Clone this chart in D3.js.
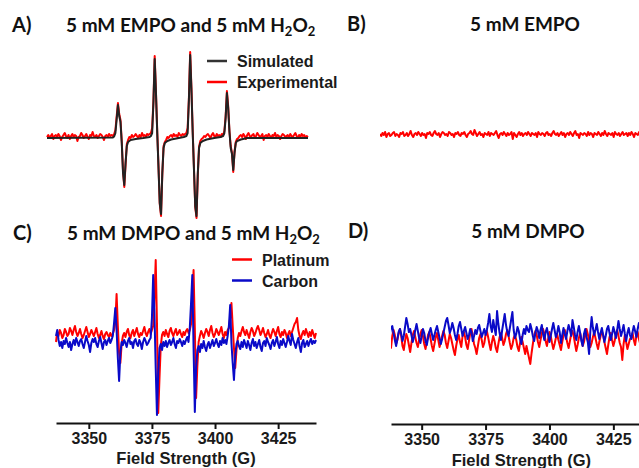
<!DOCTYPE html>
<html>
<head>
<meta charset="utf-8">
<script src="https://cdn.jsdelivr.net/npm/d3@7"></script>
<style>
  body { margin: 0; background: #fff; }
  svg { display: block; }
  .lbl { font-family: "Liberation Sans", Arial, sans-serif; font-weight: bold; fill: #1a1a1a; }
  .ttl { font-family: Lato, "Open Sans", sans-serif; font-weight: bold; fill: #111; }
</style>
</head>
<body>
<svg id="chart" width="639" height="468"></svg>
<script>
// sweep grid of the spectrometer: first field (G) and step (G)
const fieldStart = 3337;
const fieldStep = 0.5;

const tickFields = [3350, 3375, 3400, 3425];

// A) simulated spectrum, [field, intensity] vertices
const simA = [
  [3337, 0], [3363, 0.5], [3363.5, 1.5], [3364, 5], [3364.5, 19], [3365, 33], [3365.5, 22], [3366, 16],
  [3366.5, -5], [3367, -35], [3367.5, -47], [3368, -25], [3368.5, -8], [3369, -4], [3370, -2], [3372, -1], [3375, 0],
  [3377.5, 1], [3378, 2], [3378.5, 5], [3379, 35], [3379.5, 79], [3380, 45], [3380.5, 5], [3381, -30],
  [3381.5, -65], [3382, -76], [3382.5, -35], [3383, -10], [3383.5, -5], [3384.5, -3], [3386, -1.5], [3389, 0],
  [3391, 1], [3392, 2], [3392.5, 5], [3393, 38], [3393.5, 83], [3394, 48], [3394.5, 5], [3395, -32],
  [3395.5, -68], [3396, -78], [3396.5, -36], [3397, -10], [3397.5, -5], [3398.5, -3], [3400, -1.5], [3403, 0],
  [3405.5, 1], [3406.5, 2], [3407, 5], [3407.5, 20], [3408, 45], [3408.5, 30], [3409, 6], [3409.5, -10],
  [3410, -16], [3410.5, -32], [3411, -15], [3411.5, -5], [3412, -3], [3413.5, -1.5], [3416, 0], [3440, 0]
];

// A) experimental, one value per sweep point
const expA = [
  1, 3, 0, 2, 4, -1, 2, 3, 1, 4,
  2, -2, 1, 3, 5, 2, 0, 3, -1, 2,
  4, 1, 3, 2, -3, 1, 2, 5, 3, 0,
  2, 4, 1, -1, 3, 2, 6, 2, 1, 3,
  0, 2, 4, 3, 1, -2, 2, 3, 1, 4,
  2, 3, 2, 4, 8, 22, 35, 24, 18, -3,
  -33, -49, -27, -6, -2, 1, 0, 3, 1, 2,
  4, 2, 0, 3, 1, 5, 2, 3, 1, 4,
  3, 4, 5, 10, 37, 82, 46, 7, -28, -66,
  -78, -37, -8, -4, -2, 1, 0, 2, 3, 1,
  4, 2, 3, 1, 5, 3, 2, 4, 3, 4,
  5, 10, 40, 86, 50, 7, -30, -69, -80, -38,
  -9, -3, -1, 0, 2, 1, 3, 4, 2, 0,
  3, 5, 2, 1, 4, 2, 3, 1, 4, 3,
  7, 22, 47, 32, 7, -8, -15, -34, -14, -4,
  -1, 0, 2, 3, 1, 4, 2, -1, 3, 5,
  2, 1, 3, 4, 0, 2, 5, 3, 1, 2,
  4, -2, 2, 3, 1, 4, 2, 0, 3, 2,
  5, 1, 3, 2, -1, 2, 4, 3, 1, 2,
  3, 0, 4, 2, 1, 3, 5, 2, 0, 3,
  1, 4, 2, 3, 0, 2, 1
];

// B) EMPO only
const empoB = [
  1, -1, 2, 0, 3, -2, 1, 2, -1, 0,
  2, 3, -1, 1, 0, -2, 2, 1, 3, -1,
  0, 2, -1, 1, 4, 0, -2, 1, 2, 0,
  3, 1, -1, 2, 0, 1, -3, 2, 1, 3,
  0, -1, 2, 4, 1, 0, 2, -2, 1, 3,
  2, 0, 1, -1, 3, 2, 0, 1, -2, 2,
  1, 3, 0, -1, 2, 1, 3, 0, -2, 1,
  2, 4, 1, 0, 5, 2, -1, 1, 3, 0,
  1, -2, 2, 1, 0, 3, -1, 2, 1, 0,
  2, 4, 0, -3, 1, 2, 0, 3, 1, -1,
  2, 0, 1, 3, -4, 2, 0, -2, 1, 3,
  0, 2, -1, 1, 2, 0, 3, 1, -1, 2,
  1, 0, 2, -2, 3, 1, 0, 2, 1, -1,
  2, 3, 0, 1, -1, 2, 4, 1, 0, 2,
  -1, 1, 3, 0, 2, -2, 1, 2, 0, 3,
  1, -1, 2, 4, 0, 1, -3, 2, 1, 0,
  2, 1, -1, 3, 0, 2, 1, -2, 2, 1,
  0, 3, 1, -1, 2, 0, 4, 1, -1, 2,
  1, 0, 2, -2, 3, 1, 0, 2, -1, 1,
  3, 0, 1, 2, -1, 2, 0, 3, 1, -2,
  2, 1, 0, 3, -1, 2, 1
];

// C) DMPO + H2O2, platinum and carbon
const platC = [
  -4, 6, 2, 8, 5, 0, 3, 9, 6, 2,
  4, 10, 7, 3, 8, 12, 6, 2, 5, 9,
  4, 0, 3, 7, 11, 6, 1, 4, 8, 5,
  2, 6, 10, 4, 0, 3, 7, 2, -1, 4,
  6, 3, 1, 5, 2, 4, 8, 16, 44, 12,
  -15, -25, -6, 2, 5, 1, 6, 9, 3, 0,
  5, 8, 2, 6, 10, 4, 1, 5, 3, 7,
  11, 5, 2, 6, 9, 4, 8, 12, 40, 78,
  15, -75, -40, -8, 3, 6, 2, 8, 4, 1,
  7, 10, 5, 2, 6, 9, 3, 5, 8, 4,
  1, 6, 3, 7, 9, 5, 8, 14, 38, 68,
  10, -60, -28, -4, 2, 7, 4, 0, 5, 9,
  6, 2, 8, 12, 5, 1, 4, 9, 6, 3,
  7, 11, 4, 0, 6, 3, 8, 10, 20, 35,
  12, -10, -30, -12, 0, 5, 2, 7, 11, 6,
  3, 8, 4, 0, 6, 10, 7, 2, 5, 9,
  12, 8, 3, 6, 10, 5, 1, 4, 8, 3,
  0, 5, 9, 6, 2, 7, 11, 4, 1, 6,
  3, 8, 5, 0, 4, 7, 2, 6, 10, 14,
  16, 20, 8, 2, -1, 4, 7, 3, 9, 5,
  1, 6, 2, 8, 4, 0, 5
];
const carbC = [
  2, 8, -2, -8, -4, -10, -3, -6, 0, -5,
  -9, -4, -12, -6, -2, -7, 0, -4, -8, -3,
  -1, -6, -10, -4, 2, -3, -7, -14, -5, -1,
  -4, 0, -6, -9, -3, 1, -5, -11, -4, -2,
  -7, -3, 0, -5, -2, 2, 15, 30, 8, -20,
  -43, -15, -4, -7, -2, -5, -9, -3, 0, -6,
  -4, -10, -3, -1, -6, -8, -2, -5, -11, -4,
  0, -3, -7, -5, -2, 0, 20, 63, 25, -30,
  -77, -35, -10, -6, -12, -4, -8, -3, -9, -5,
  -2, -7, -4, 0, -6, -10, -3, -5, -1, -4,
  -8, -3, -6, -2, 1, -4, 10, 35, 63, -10,
  -74, -30, -12, -8, -14, -6, -10, -3, -9, -13,
  -7, -4, -10, -6, -2, -8, -5, -1, -6, -9,
  -3, -7, 0, -5, -2, -6, 2, 12, 33, -5,
  -25, -42, -18, -6, -3, -8, -11, -4, -9, -2,
  -6, -10, -3, -7, -12, -5, -1, -8, -4, -10,
  -6, -2, -9, -13, -5, -3, -8, 0, -4, -7,
  -11, -5, -2, -8, -4, 1, -6, -10, -3, -7,
  -1, -5, -9, -4, 2, -3, -7, 4, -2, -6,
  -10, -4, 0, -8, -14, -5, -2, -9, -6, -3,
  -8, -4, -1, -6, -3, -5, -2
];

// D) DMPO only, platinum and carbon
const platD = [
  6, -4, -10, 2, 8, 3, -6, -2, 5, 9,
  2, -8, -12, -3, 4, 0, -7, -14, -5, 3,
  7, 1, -5, -9, -2, 4, 8, 2, -6, -11,
  -4, 3, 6, -1, -8, -13, -6, 1, 5, -2,
  -9, -4, 2, 7, 3, -5, -10, -3, 4, 0,
  -6, -12, -17, -8, -1, 3, -4, -9, 2, 6,
  1, -7, -11, -3, 5, 9, 2, -6, -10, -16,
  -8, 0, 4, -2, -9, -5, 3, 7, 1, -6,
  -12, -4, 2, -3, -10, -14, -6, 1, 5, 0,
  -7, -3, 4, 8, 2, -5, -11, -7, 0, 3,
  -2, -9, -13, -5, 1, -4, -10, -16, -8, -14,
  -20, -26, -15, -6, 2, 7, 3, -4, -9, -2,
  5, 9, 4, -3, -8, -1, 6, 2, -5, -11,
  -6, 0, 4, -2, -7, -12, -4, 3, 8, 1,
  -5, -10, -3, 4, 7, 2, -6, -13, -7, 0,
  5, -1, -8, -4, 3, 9, 4, -3, -9, -5,
  1, 6, 0, -6, -11, -4, 2, 7, 3, -4,
  -10, -16, -7, 1, 5, -2, -8, -3, 4, 8,
  2, -5, -9, -22, -6, 3, -4, -11, -6, -1,
  0, 5, -2, -7, 2, 6, -1, -6, 3, 7,
  1, -5, -9, -2, 4, 0, -6
];
const carbD = [
  -4, 3, 10, 12, 5, -2, -8, -1, 6, 9,
  4, -3, 2, 11, 20, 14, 6, 9, 3, -4,
  1, 8, 14, 7, 0, -5, 2, 9, 5, -3,
  -7, 0, 6, 10, 4, -2, 3, 8, 12, 6,
  0, -6, -1, 5, 11, 17, 20, 13, 5, 9,
  15, 10, 3, -2, 4, 12, 16, 9, 2, 7,
  11, 5, -1, 3, 9, 6, -3, 2, 8, 4,
  10, 13, 7, 1, 5, 9, 3, 8, 15, 24,
  12, 6, 18, 10, 3, 27, 14, 5, -2, 8,
  16, 24, 13, 6, 2, 10, 18, 26, 8, 0,
  4, 11, 7, -1, -6, 3, 9, 4, 12, 8,
  6, 14, 9, 2, -3, 5, 11, 7, 0, 8,
  13, 4, -2, 6, 10, 3, -4, 2, 9, 15,
  8, 1, 5, 12, 6, -5, 3, 10, 4, -1,
  7, 13, 8, 2, 18, 11, 3, -2, 6, 12,
  5, -3, -8, 4, 9, 1, -4, -16, 7, 21,
  10, 3, 8, 14, 6, -1, 5, 10, 3, -4,
  2, 9, 12, 5, -2, 4, 11, 6, 0, 8,
  17, 9, 2, 7, 13, 4, -3, 5, 10, 3,
  -1, 6, 12, 7, 1, 9, 15, 8, 2, -2,
  5, 11, 6, 0, 4, 9, 3
];

const RED = "#ff0000", BLUE = "#0a0ac8", BLACK = "#222222";

const svg = d3.select("#chart");

const toPoints = vals => vals.map((v, i) => [fieldStart + i * fieldStep, v]);

function panel(p) {
  const x = d3.scaleLinear().domain(p.domain).range(p.range);
  const y = d3.scaleLinear().domain([-100, 100]).range([p.base + 100, p.base - 100]);
  const g = svg.append("g");

  const clipId = "clip" + p.id;
  svg.append("clipPath").attr("id", clipId)
    .append("rect").attr("x", p.clipLeft).attr("y", 0).attr("width", 700).attr("height", 468);

  const line = d3.line().x(d => x(d[0])).y(d => y(d[1]));
  const plot = g.append("g").attr("clip-path", `url(#${clipId})`);
  p.series.forEach(s => {
    plot.append("path")
      .datum(s.data)
      .attr("fill", "none")
      .attr("stroke", s.color)
      .attr("stroke-width", s.width)
      .attr("stroke-linejoin", "round")
      .attr("d", line);
  });

  if (p.axisY) {
    const ax = g.append("g")
      .attr("transform", `translate(0,${p.axisY})`)
      .call(d3.axisBottom(x).tickValues(tickFields).tickFormat(d3.format("d"))
        .tickSize(6).tickSizeOuter(0).tickPadding(4));
    ax.attr("font-family", null).attr("font-size", null);
    ax.select(".domain").attr("stroke", "#111").attr("stroke-width", 2);
    ax.selectAll(".tick line").attr("stroke", "#111").attr("stroke-width", 2);
    ax.selectAll(".tick text")
      .attr("class", "lbl")
      .style("font-size", "16px")
      .attr("fill", "#1a1a1a");
    g.append("text")
      .attr("class", "lbl")
      .attr("x", (p.range[0] + x(3440)) / 2)
      .attr("y", p.titleY)
      .attr("text-anchor", "middle")
      .style("font-size", "16.5px")
      .text("Field Strength (G)");
  }

  if (p.legend) {
    p.legend.forEach((l, i) => {
      const ly = p.legendY + i * 21;
      g.append("line")
        .attr("x1", p.legendX).attr("x2", p.legendX + 20)
        .attr("y1", ly).attr("y2", ly)
        .attr("stroke", l.color).attr("stroke-width", 2.5);
      g.append("text")
        .attr("class", "lbl")
        .attr("x", p.legendX + 30)
        .attr("y", ly + 6)
        .style("font-size", "16px")
        .text(l.label);
    });
  }
}

function heading(x, y, letter, lx, parts, anchor) {
  svg.append("text").attr("class", "ttl").attr("x", lx).attr("y", y)
    .style("font-size", "20px").text(letter);
  const t = svg.append("text").attr("class", "ttl").attr("x", x).attr("y", y)
    .attr("text-anchor", anchor || "start")
    .style("font-size", "19px");
  parts.forEach(pt => {
    const sp = t.append("tspan").text(pt[0]);
    if (pt[1] === "sub") sp.attr("dy", 4).style("font-size", "13px");
    if (pt[1] === "up") sp.attr("dy", -4);
  });
}

panel({
  id: "A", domain: [3337, 3440], range: [47, 308], base: 138, clipLeft: 0,
  series: [
    { data: toPoints(expA), color: RED, width: 2 },
    { data: simA, color: BLACK, width: 2 }
  ],
  legend: [{ label: "Simulated", color: "#333" }, { label: "Experimental", color: RED }],
  legendX: 207, legendY: 61
});

panel({
  id: "B", domain: [3337, 3440], range: [380, 643], base: 135, clipLeft: 380,
  series: [{ data: toPoints(empoB), color: RED, width: 2 }]
});

panel({
  id: "C", domain: [3337, 3440], range: [56, 316], base: 338, clipLeft: 0,
  series: [
    { data: toPoints(platC), color: RED, width: 2 },
    { data: toPoints(carbC), color: BLUE, width: 2 }
  ],
  axisY: 423, titleY: 464,
  legend: [{ label: "Platinum", color: RED }, { label: "Carbon", color: BLUE }],
  legendX: 232, legendY: 259.5
});

panel({
  id: "D", domain: [3338, 3440], range: [391, 651.7], base: 338, clipLeft: 391,
  series: [
    { data: toPoints(platD), color: RED, width: 2 },
    { data: toPoints(carbD), color: BLUE, width: 2 }
  ],
  axisY: 424, titleY: 466
});

heading(66, 32, "A)", 12, [["5 mM EMPO and 5 mM H"], ["2", "sub"], ["O", "up"], ["2", "sub"]]);
heading(525, 31, "B)", 347, [["5 mM EMPO"]], "middle");
heading(67, 240, "C)", 13, [["5 mM DMPO and 5 mM H"], ["2", "sub"], ["O", "up"], ["2", "sub"]]);
heading(528, 238, "D)", 348, [["5 mM DMPO"]], "middle");
</script>
</body>
</html>
